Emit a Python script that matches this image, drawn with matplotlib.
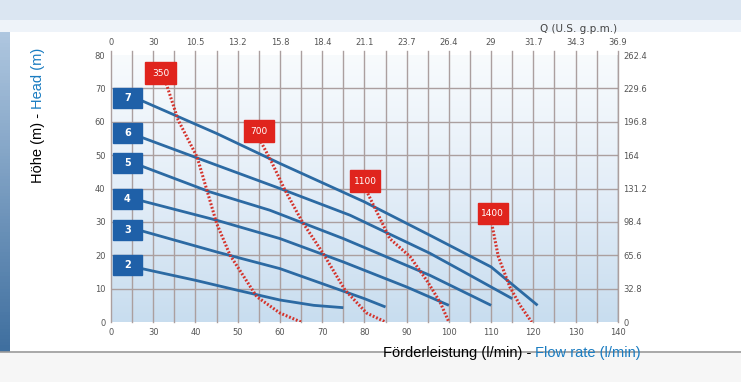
import matplotlib.pyplot as plt
import matplotlib.patches as patches
from matplotlib.colors import LinearSegmentedColormap
import numpy as np

# flow axis: bottom labels (the first position is labelled 0 on the chart)
flow_ticks = [20, 30, 40, 50, 60, 70, 80, 90, 100, 110, 120, 130, 140]
flow_labels = ["0", "30", "40", "50", "60", "70", "80", "90", "100", "110", "120", "130", "140"]
gpm_labels = ["0", "30", "10.5", "13.2", "15.8", "18.4", "21.1", "23.7", "26.4", "29", "31.7", "34.3", "36.9"]
head_ticks = [0, 10, 20, 30, 40, 50, 60, 70, 80]
feet_labels = ["0", "32.8", "65.6", "98.4", "131.2", "164", "196.8", "229.6", "262.4"]

# pump curves (stages)
stages = ["2", "3", "4", "5", "6", "7"]
stage_q = [
    [27.3, 40, 50, 60, 68, 75],
    [27.3, 45, 60, 70, 80, 85],
    [27.3, 45, 60, 75, 90, 100],
    [27.3, 43.4, 57.6, 75, 95.5, 110],
    [27.3, 45, 60, 76.6, 95.5, 105, 115],
    [27.3, 45, 60, 80, 95.5, 110, 121],
]
stage_h = [
    [16, 12.5, 9.5, 6.6, 5, 4.3],
    [27.3, 21, 16, 11.5, 7, 4.5],
    [36.3, 30.5, 25, 18, 10.5, 5],
    [46.7, 39, 33.5, 25, 14, 5],
    [55.3, 47, 40, 32, 20.6, 14, 7],
    [66.3, 56.5, 47.5, 36, 26, 16.5, 5],
]
stage_box_h = [17, 27.7, 37, 47.5, 56.6, 67]

# red dotted curves
series = ["350", "700", "1100", "1400"]
red_q = [
    [32.8, 35.9, 40.4, 43.4, 45, 48.2, 54.5, 60, 65],
    [55.5, 58, 61.2, 65.3, 70.2, 75.4, 80.5, 85],
    [80.8, 83.7, 86, 90.8, 95, 98, 100],
    [110.3, 111.7, 114.4, 116.8, 119.6],
]
red_h = [
    [72.5, 60.5, 49.4, 36.5, 29.6, 20, 7.6, 2.7, 0],
    [54, 48, 39.5, 30, 20.6, 9.6, 2.7, 0],
    [38.5, 31, 25, 19.6, 12, 5.7, 0],
    [28.5, 19.6, 10.6, 5.1, 0],
]
red_box_q = [31.6, 55, 80.1, 110.3]
red_box_h = [74.6, 57.2, 42.2, 32.6]

blue = '#2c6aa3'
box_blue = '#1f60a8'
red = '#d5332b'
grid_c = '#ab9f9f'
txt_c = '#555555'
label_blue = '#1a7cc1'

fig = plt.figure(figsize=(7.41, 3.82), dpi=100)
fig.patch.set_facecolor('white')

# background decoration: top band and left strip
bg = fig.add_axes([0, 0, 1, 1], zorder=-10)
bg.axis('off')
bg.add_patch(patches.Rectangle((0, 0), 741, 20, color='#dbe6f2', lw=0))
bg.add_patch(patches.Rectangle((0, 20), 741, 12, color='#eef3f9', lw=0))
strip = np.linspace(0, 1, 100).reshape(-1, 1)
bg.imshow(strip, extent=[0, 10, 352, 20],
          cmap=LinearSegmentedColormap.from_list('st', ['#b3cae2', '#3f6f9f']),
          aspect='auto', origin='upper')
bg.plot([0, 741], [352, 352], color='#9a9a9a', lw=1.2)
bg.add_patch(patches.Rectangle((0, 353), 741, 29, color='#f6f6f6', lw=0))
bg.set_xlim(0, 741)
bg.set_ylim(382, 0)

ax = fig.add_axes([0.1498, 0.157, 0.684, 0.699])

# plot area gradient: pale at top, light blue at bottom
grad = np.linspace(0, 1, 200).reshape(-1, 1)
cmap = LinearSegmentedColormap.from_list('bgc', ['#f8fbfd', '#e4eef8', '#c8ddef'])
ax.imshow(grad, extent=[20, 140, 0, 80], cmap=cmap, aspect='auto', origin='upper', zorder=0)
ax.set_xlim(20, 140)
ax.set_ylim(0, 80)

for q in range(20, 141, 5):
    ax.plot([q, q], [0, 81.3], color=grid_c, lw=1, zorder=1, clip_on=False)
for h in head_ticks[1:-1]:
    ax.axhline(h, color=grid_c, lw=1, zorder=1)

for s in ax.spines.values():
    s.set_visible(False)
ax.plot([140, 140], [0, 80], color='#8a8a8a', lw=1, zorder=2)

ax.set_xticks(flow_ticks)
ax.set_xticklabels(flow_labels)
ax.set_yticks(head_ticks)
ax.tick_params(axis='both', length=0, labelsize=6, labelcolor=txt_c, pad=4)

top = ax.secondary_xaxis('top')
top.set_xticks(flow_ticks)
top.set_xticklabels(gpm_labels)
top.tick_params(length=0, labelsize=6, labelcolor=txt_c, pad=6)
top.spines['top'].set_visible(False)

right = ax.secondary_yaxis('right')
right.set_yticks(head_ticks)
right.set_yticklabels(feet_labels)
right.tick_params(length=0, labelsize=6, labelcolor=txt_c, pad=4)
right.spines['right'].set_visible(False)

for q, h in zip(stage_q, stage_h):
    ax.plot(q, h, color=blue, lw=2, zorder=4, solid_capstyle='butt')
for q, h in zip(red_q, red_h):
    ax.plot(q, h, color=red, lw=2.2, ls=(0, (0.6, 0.6)), zorder=5)

for lab, h in zip(stages, stage_box_h):
    ax.add_patch(patches.Rectangle((20.4, h - 3), 7, 6, color=box_blue, zorder=6))
    ax.text(23.9, h, lab, color='white', fontsize=7, fontweight='bold',
            ha='center', va='center', zorder=7)
for lab, q, h in zip(series, red_box_q, red_box_h):
    ax.add_patch(patches.Rectangle((q - 3.5, h - 3.2), 7.2, 6.4, color='#e0241d', zorder=6))
    ax.text(q + 0.1, h, lab, color='white', fontsize=6.5, ha='center', va='center', zorder=7)

fig.text(0.781, 0.925, "Q (U.S. g.p.m.)", fontsize=7.5, color='#444444', ha='center', va='center')

# axis titles, two colours each
fig.text(0.051, 0.715, "Höhe (m) - ", rotation=90, fontsize=10.5, color='black',
         ha='center', va='top', family='Liberation Sans')
fig.text(0.051, 0.715, "Head (m)", rotation=90, fontsize=10.5, color=label_blue,
         ha='center', va='bottom', family='Liberation Sans')
fig.text(0.722, 0.075, "Förderleistung (l/min) - ", fontsize=10.5, color='black',
         ha='right', va='center', family='Liberation Sans')
fig.text(0.722, 0.075, "Flow rate (l/min)", fontsize=10.5, color=label_blue,
         ha='left', va='center', family='Liberation Sans')

fig.savefig('out.png', dpi=100)
